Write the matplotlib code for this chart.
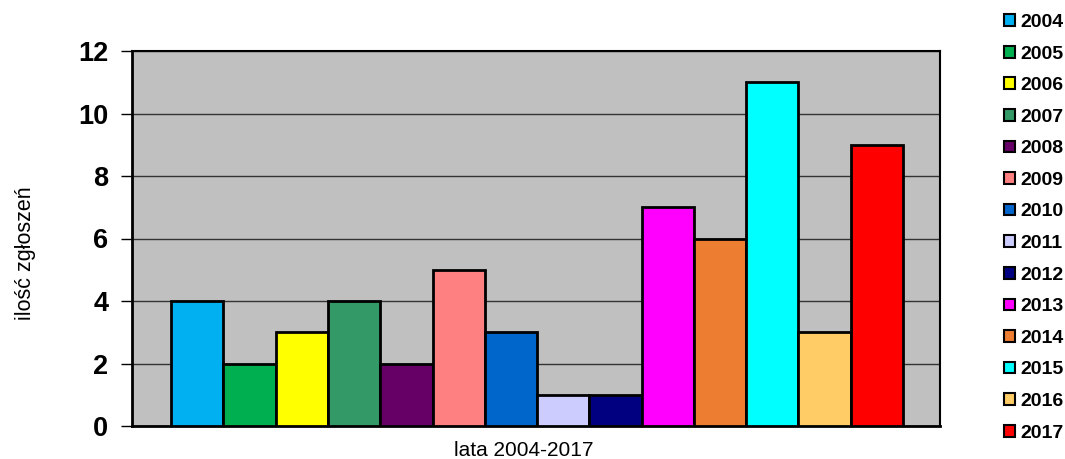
import matplotlib
matplotlib.use("Agg")
import matplotlib.pyplot as plt
from matplotlib.patches import Patch

years = ["2004", "2005", "2006", "2007", "2008", "2009", "2010",
         "2011", "2012", "2013", "2014", "2015", "2016", "2017"]
values = [4, 2, 3, 4, 2, 5, 3, 1, 1, 7, 6, 11, 3, 9]
colors = ["#00B0F0", "#00B050", "#FFFF00", "#339966", "#660066", "#FF8080",
          "#0066CC", "#CCCCFF", "#000080", "#FF00FF", "#ED7D31", "#00FFFF",
          "#FFCC66", "#FF0000"]
yticks = [0, 2, 4, 6, 8, 10, 12]

plt.rcParams['font.family'] = ['Liberation Sans', 'DejaVu Sans']

fig = plt.figure(figsize=(10.65, 4.59), dpi=100)
ax = fig.add_axes([132/1065, 1 - 426/459, (940-132)/1065, (426-51)/459])
ax.set_facecolor("#C0C0C0")

x = list(range(len(values)))
ax.bar(x, values, width=1.0, color=colors, edgecolor="black", linewidth=2, zorder=3)

ax.set_ylim(0, 12)
ax.set_xlim(-0.5 - 0.75, len(values) - 0.5 + 0.71)
ax.set_yticks(yticks)
ax.set_yticklabels([str(t) for t in yticks], fontsize=19.5, fontweight='bold')
ax.set_xticks([])
ax.grid(axis='y', color="#333333", linewidth=1, zorder=1)
ax.tick_params(axis='y', length=8, width=1, direction='out', pad=9)
for s in ax.spines.values():
    s.set_linewidth(1.5)
    s.set_color("#000000")
ax.spines['left'].set_linewidth(2)
ax.spines['bottom'].set_linewidth(2)

fig.text(524/1065, 1 - 450/459, "lata 2004-2017", fontsize=15,
         ha='center', va='center')
fig.text(25/1065, 1 - 253/459, "ilość zgłoszeń", rotation=90, fontsize=15.5,
         ha='center', va='center')

handles = [Patch(facecolor=c, edgecolor="black", linewidth=1.5, label=y)
           for c, y in zip(colors, years)]
leg = fig.legend(handles=handles, loc='upper left',
                 bbox_to_anchor=(1004/1065, 1 - 14/459), frameon=False,
                 prop={'weight': 'bold', 'size': 14}, handlelength=0.55,
                 handleheight=0.55, handletextpad=0.3, labelspacing=0.75,
                 borderaxespad=0, borderpad=0)

fig.savefig("out.png", dpi=100)
